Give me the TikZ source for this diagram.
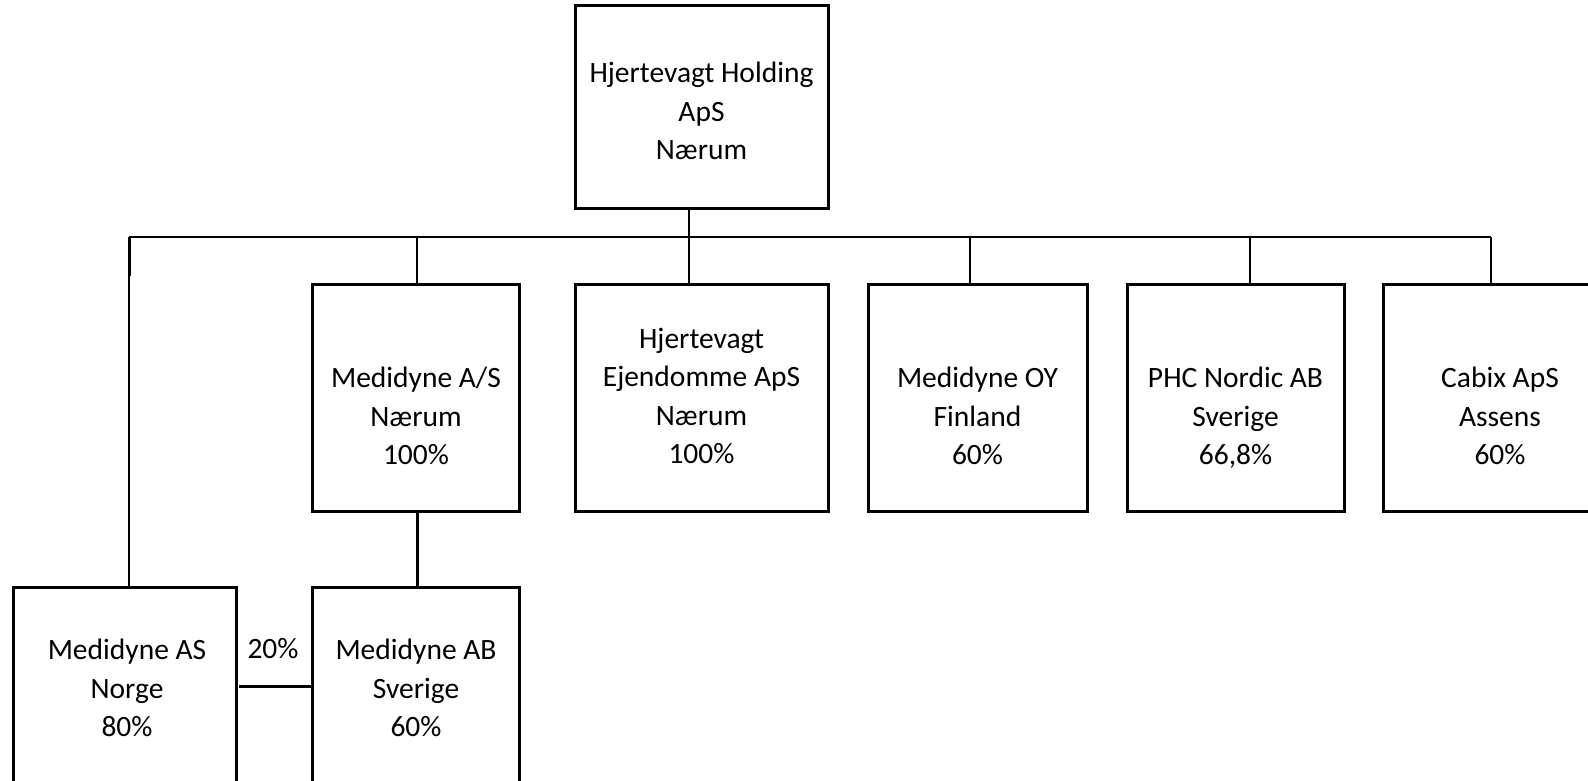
\documentclass[tikz,border=0pt]{standalone}
\usepackage{fontspec}
\setmainfont{Carlito}
\begin{document}
\begin{tikzpicture}[x=1pt,y=-1pt,
  box/.style={draw=black,line width=3pt,rectangle,inner sep=0pt,outer sep=0pt},
  txt/.style={align=center,inner sep=0pt,font=\fontsize{29.5}{38.5}\selectfont},
  bus/.style={line width=2pt},
  conn/.style={line width=1.6pt},
  thickconn/.style={line width=3pt}]
\clip (0,0) rectangle (1588,781);
% boxes
\node[box,minimum width=253,minimum height=202] (top) at (701.5,107) {};
\node[box,minimum width=207,minimum height=227] (ms) at (415.5,397.5) {};
\node[box,minimum width=253,minimum height=227] (ejd) at (701.5,397.5) {};
\node[box,minimum width=219,minimum height=227] (oy) at (977.5,397.5) {};
\node[box,minimum width=217,minimum height=227] (phc) at (1235.5,397.5) {};
\node[box,minimum width=227,minimum height=227] (cab) at (1496.5,397.5) {};
\node[box,minimum width=223,minimum height=233] (nor) at (124.5,703.5) {};
\node[box,minimum width=207,minimum height=233] (ab) at (415.5,703.5) {};
% texts
\node[txt] (ttop) at (701.5,111) {Hjertevagt Holding\\ApS\\Nærum};
\node[txt] (tms) at (416,416) {Medidyne A/S\\Nærum\\100\%};
\node[txt] (tejd) at (701.5,396) {Hjertevagt\\Ejendomme ApS\\Nærum\\100\%};
\node[txt] (toy) at (977.5,416) {Medidyne OY\\Finland\\60\%};
\node[txt] (tphc) at (1235.5,418) {PHC Nordic AB\\Sverige\\66,8\%};
\node[txt] (tcab) at (1500,416) {Cabix ApS\\Assens\\60\%};
\node[txt] (tnor) at (127,688) {Medidyne AS\\Norge\\80\%};
\node[txt] (tab) at (416,688) {Medidyne AB\\Sverige\\60\%};
\node[txt] (p20) at (273,649) {20\%};
% bus coordinates
\coordinate (b1) at (129,237);
\coordinate (b2) at (417,237);
\coordinate (b3) at (689,237);
\coordinate (b4) at (970,237);
\coordinate (b5) at (1250,237);
\coordinate (b6) at (1491,237);
\coordinate (bk) at (129,276);
\coordinate (link) at (0,686);
% connectors
\draw[bus] (b1) -- (b6);
\draw[conn] (top.south -| b3) -- (ejd.north -| b3);
\draw[conn] (b2) -- (ms.north -| b2);
\draw[conn] (b4) -- (oy.north -| b4);
\draw[conn] (b5) -- (phc.north -| b5);
\draw[conn] (b6) -- (cab.north -| b6);
\draw[thickconn] (b1) -- (bk);
\draw[conn] (bk) -- (nor.north -| b1);
\draw[thickconn] (ms.south -| b2) -- (ab.north -| b2);
\draw[thickconn] ([xshift=3pt]nor.east |- link) -- (ab.west |- link);
\end{tikzpicture}
\end{document}
